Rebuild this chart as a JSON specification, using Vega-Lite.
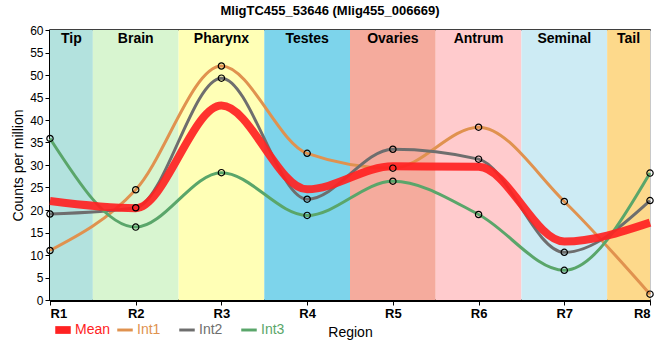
{
  "$schema": "https://vega.github.io/schema/vega-lite/v6.json",
  "width": 600,
  "height": 270,
  "autosize": "none",
  "padding": {"left": 50, "top": 30, "right": 10, "bottom": 60},
  "background": "white",
  "config": {
    "font": "Liberation Sans",
    "view": {"stroke": "black", "strokeWidth": 1.5},
    "axis": {"gridColor": "#c8c8c8", "gridWidth": 1, "domainColor": "black", "domainWidth": 3, "tickColor": "black", "labelColor": "black", "titleColor": "black"}
  },
  "title": {"text": "MligTC455_53646 (Mlig455_006669)", "fontSize": 13, "fontWeight": "bold", "anchor": "middle", "dx": -20, "offset": 6, "color": "black"},
  "datasets": {
    "bands": [
      {"region": "Tip", "start": 1, "end": 1.5, "mid": 1.25},
      {"region": "Brain", "start": 1.5, "end": 2.5, "mid": 2},
      {"region": "Pharynx", "start": 2.5, "end": 3.5, "mid": 3},
      {"region": "Testes", "start": 3.5, "end": 4.5, "mid": 4},
      {"region": "Ovaries", "start": 4.5, "end": 5.5, "mid": 5},
      {"region": "Antrum", "start": 5.5, "end": 6.5, "mid": 6},
      {"region": "Seminal", "start": 6.5, "end": 7.5, "mid": 7},
      {"region": "Tail", "start": 7.5, "end": 8, "mid": 7.75}
    ],
    "series": [
      {"series": "Int1", "pos": 1, "value": 11.0},
      {"series": "Int1", "pos": 2, "value": 24.5},
      {"series": "Int1", "pos": 3, "value": 52.0},
      {"series": "Int1", "pos": 4, "value": 32.6},
      {"series": "Int1", "pos": 5, "value": 29.3},
      {"series": "Int1", "pos": 6, "value": 38.4},
      {"series": "Int1", "pos": 7, "value": 21.9},
      {"series": "Int1", "pos": 8, "value": 1.3},
      {"series": "Int2", "pos": 1, "value": 19.1},
      {"series": "Int2", "pos": 2, "value": 20.5},
      {"series": "Int2", "pos": 3, "value": 49.3},
      {"series": "Int2", "pos": 4, "value": 22.4},
      {"series": "Int2", "pos": 5, "value": 33.5},
      {"series": "Int2", "pos": 6, "value": 31.3},
      {"series": "Int2", "pos": 7, "value": 10.6},
      {"series": "Int2", "pos": 8, "value": 22.1},
      {"series": "Int3", "pos": 1, "value": 35.9},
      {"series": "Int3", "pos": 2, "value": 16.2},
      {"series": "Int3", "pos": 3, "value": 28.3},
      {"series": "Int3", "pos": 4, "value": 18.8},
      {"series": "Int3", "pos": 5, "value": 26.4},
      {"series": "Int3", "pos": 6, "value": 19.0},
      {"series": "Int3", "pos": 7, "value": 6.6},
      {"series": "Int3", "pos": 8, "value": 28.2}
    ],
    "mean": [
      {"series": "Mean", "pos": 1, "value": 22.0},
      {"series": "Mean", "pos": 2, "value": 20.4},
      {"series": "Mean", "pos": 3, "value": 43.2},
      {"series": "Mean", "pos": 4, "value": 24.6},
      {"series": "Mean", "pos": 5, "value": 29.7},
      {"series": "Mean", "pos": 6, "value": 29.6},
      {"series": "Mean", "pos": 7, "value": 13.0},
      {"series": "Mean", "pos": 8, "value": 17.2}
    ]
  },
  "encoding": {
    "x": {"type": "quantitative", "scale": {"domain": [1, 8], "nice": false, "zero": false},
      "axis": {"values": [1, 2, 3, 4, 5, 6, 7, 8], "labelExpr": "'R' + datum.value", "labelFontWeight": "bold", "labelFontSize": 13, "tickSize": 5, "title": "Region", "titleFontWeight": "normal", "titleFontSize": 14, "titleY": 36, "titleBaseline": "alphabetic", "labelPadding": 2}},
    "y": {"type": "quantitative", "scale": {"domain": [0, 60], "nice": false},
      "axis": {"values": [0, 5, 10, 15, 20, 25, 30, 35, 40, 45, 50, 55, 60], "labelFontSize": 12, "tickSize": 5, "title": "Counts per million", "titleFontWeight": "normal", "titleFontSize": 14, "titlePadding": 4}}
  },
  "layer": [
    {
      "data": {"name": "bands"},
      "mark": {"type": "rect"},
      "encoding": {
        "x": {"field": "start"},
        "x2": {"field": "end"},
        "y": {"datum": 0},
        "y2": {"datum": 60},
        "fill": {"field": "region", "type": "nominal", "scale": {"domain": ["Tip", "Brain", "Pharynx", "Testes", "Ovaries", "Antrum", "Seminal", "Tail"], "range": ["#b3e2de", "#d8f5d0", "#ffffb6", "#7dd4eb", "#f5ab9d", "#ffcbcd", "#cdebf4", "#fdd98b"]}, "legend": null}
      }
    },
    {
      "data": {"name": "bands"},
      "mark": {"type": "text", "fontWeight": "bold", "fontSize": 14, "baseline": "middle", "color": "black"},
      "encoding": {
        "x": {"field": "mid"},
        "y": {"datum": 57.9},
        "text": {"field": "region"}
      }
    },
    {
      "data": {"name": "series"},
      "mark": {"type": "line", "interpolate": "monotone", "strokeWidth": 3},
      "encoding": {
        "x": {"field": "pos"},
        "y": {"field": "value"},
        "color": {"field": "series", "type": "nominal",
          "scale": {"domain": ["Mean", "Int1", "Int2", "Int3"], "range": ["#ff2222", "#e0924f", "#6e6e6e", "#5aa66a"]},
          "legend": {"title": null, "orient": "none", "legendX": 5, "legendY": 292, "direction": "horizontal", "gridAlign": "all", "symbolType": "stroke", "symbolSize": 240, "symbolStrokeWidth": 0, "labelFontSize": 14, "columnPadding": 6, "labelOffset": 4, "padding": 0,
            "encode": {
              "labels": {"update": {"fill": {"scale": "color", "field": "value"}}},
              "symbols": {"update": {
                "shape": {"signal": "datum.value === 'Mean' ? 'M-1,-0.5H1V0.5H-1Z' : 'M-1,-0.19H1V0.19H-1Z'"},
                "fill": {"scale": "color", "field": "value"},
                "fillOpacity": {"value": 1},
                "strokeWidth": {"value": 0}
              }}
            }}
        }
      }
    },
    {
      "data": {"name": "mean"},
      "mark": {"type": "line", "interpolate": "monotone", "strokeWidth": 8, "opacity": 0.92},
      "encoding": {
        "x": {"field": "pos"},
        "y": {"field": "value"},
        "color": {"field": "series", "type": "nominal"}
      }
    },
    {
      "data": {"name": "series"},
      "mark": {"type": "point", "shape": "circle", "filled": false, "stroke": "black", "strokeWidth": 1.2, "size": 40, "opacity": 1},
      "encoding": {
        "x": {"field": "pos"},
        "y": {"field": "value"}
      }
    }
  ]
}
